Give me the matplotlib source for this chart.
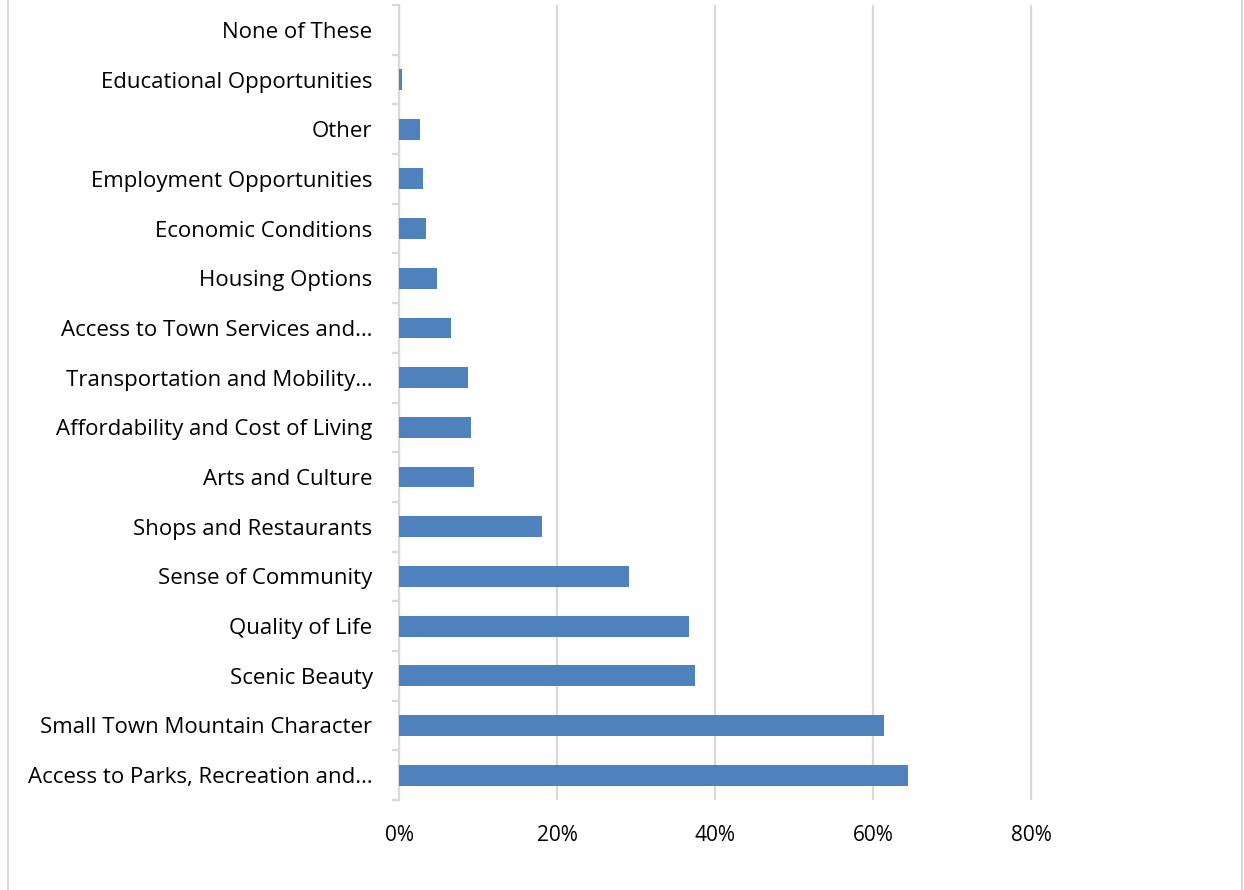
import matplotlib.pyplot as plt
import numpy as np
from matplotlib.ticker import PercentFormatter

plt.rcParams["font.family"] = ["Open Sans", "DejaVu Sans"]

categories = [
    "Access to Parks, Recreation and…",
    "Small Town Mountain Character",
    "Scenic Beauty",
    "Quality of Life",
    "Sense of Community",
    "Shops and Restaurants",
    "Arts and Culture",
    "Affordability and Cost of Living",
    "Transportation and Mobility…",
    "Access to Town Services and…",
    "Housing Options",
    "Economic Conditions",
    "Employment Opportunities",
    "Other",
    "Educational Opportunities",
    "None of These",
]
shares = [0.644, 0.614, 0.375, 0.367, 0.291, 0.181, 0.095, 0.091,
          0.087, 0.066, 0.048, 0.034, 0.030, 0.027, 0.004, 0.0]

GRID = "#d9d9d9"

fig = plt.figure(figsize=(12.44, 8.90), dpi=100)
ax = fig.add_axes([399 / 1244, 1 - 800 / 890, 790 / 1244, 795 / 890])

y = np.arange(len(categories))
ax.barh(y, shares, height=0.42, color="#4f81bd", linewidth=0, zorder=3)

ax.set_xlim(0, 1)
ax.set_ylim(-0.5, len(categories) - 0.5)
ax.set_xticks([0, 0.2, 0.4, 0.6, 0.8])
ax.xaxis.set_major_formatter(PercentFormatter(1.0, decimals=0))
ax.grid(axis="x", color=GRID, linewidth=1.6, zorder=0)

ax.set_yticks(y)
ax.set_yticklabels(categories)
ax.set_yticks(np.arange(-0.5, len(categories), 1), minor=True)
ax.tick_params(axis="y", which="major", length=0, pad=19, labelsize=16)
ax.tick_params(axis="y", which="minor", length=5, width=1.6, color=GRID)
ax.tick_params(axis="x", length=0, pad=18, labelsize=15)

for s in ["top", "right", "bottom"]:
    ax.spines[s].set_visible(False)
ax.spines["left"].set_color(GRID)
ax.spines["left"].set_linewidth(1.6)

# outer chart border
fig.add_artist(plt.Line2D([8 / 1244, 8 / 1244], [0, 1], color=GRID, linewidth=1.5))
fig.add_artist(plt.Line2D([1242 / 1244, 1242 / 1244], [0, 1], color=GRID, linewidth=1.5))

fig.savefig("out.png", dpi=100)
